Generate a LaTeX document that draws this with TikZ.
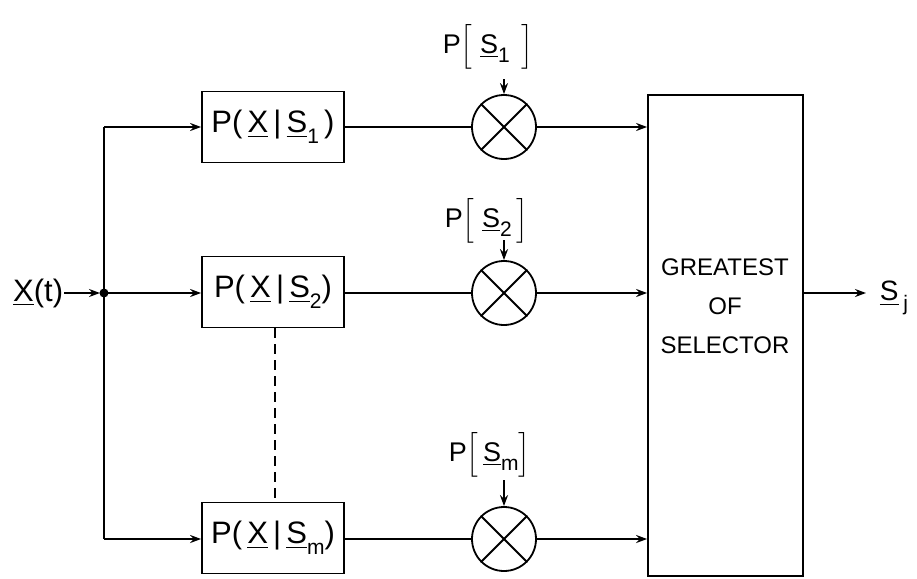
\documentclass[tikz,border=0pt]{standalone}
\usepackage{amsmath}
\usepackage{fontspec}
\setmainfont{Liberation Sans}
\usetikzlibrary{arrows.meta}
\newcommand{\ul}[1]{\underline{#1}}
\newcommand{\subs}[1]{\raisebox{-0.35em}{\fontsize{21}{21}\selectfont #1}}
\newcommand{\brk}[1]{$\Bigl[$#1$\Bigr]$}
\begin{document}
\begin{tikzpicture}[x=1pt,y=-1pt,
  line width=1.8pt,
  tip/.style={-{Stealth[length=11pt,width=8pt]}},
  fbox/.style={draw, minimum width=142pt, minimum height=71pt, inner sep=0pt,
    font=\fontsize{31}{36}\selectfont},
  mult/.style={draw, circle, minimum size=64pt, inner sep=0pt},
  plabel/.style={font=\fontsize{27}{32}\selectfont, inner sep=0pt, anchor=base west},
  big/.style={font=\fontsize{31}{36}\selectfont, inner sep=0pt},
  gtext/.style={font=\fontsize{24}{39}\selectfont, align=center, inner sep=0pt},
]
\useasboundingbox (0,0) rectangle (917,578);

% input
\node[big, anchor=east] (x) at (64,293) {\ul{X}(t)};
\coordinate (j) at (104,293);
\coordinate (jt) at (104,127);
\coordinate (jb) at (104,539);

% filter boxes
\node[fbox] (b1) at (273,127) {P(\,\ul{X}\,|\,\ul{S}\subs{1}\,)};
\node[fbox] (b2) at (273,292) {P(\,\ul{X}\,|\,\ul{S}\subs{2})};
\node[fbox] (bm) at (273,538) {P(\,\ul{X}\,|\,\ul{S}\subs{m})};

% multipliers
\node[mult] (m1) at (504,127) {};
\node[mult] (m2) at (504,293) {};
\node[mult] (mm) at (504,539) {};
\foreach \m in {m1,m2,mm}{
  \draw (\m.45) -- (\m.225);
  \draw (\m.135) -- (\m.-45);
}

% probability labels
\node[plabel] (p1) at (442,53) {P\brk{\;\ul{S}\subs{1}\;\,}};
\node[plabel] (p2) at (444,227) {P\brk{\;\ul{S}\subs{2}\,}};
\node[plabel] (pm) at (448,461) {P\brk{\,\ul{S}\subs{m}}};
\coordinate (a1) at (504,79);
\coordinate (a2) at (504,240);
\coordinate (am) at (504,480);

% selector
\node[draw, minimum width=155pt, minimum height=481pt, inner sep=0pt] (g) at (725.5,335.5) {};
\node[gtext] (gt) at (725,306) {GREATEST\\OF\\SELECTOR};

% output
\node[anchor=west, inner sep=0pt, font=\fontsize{28}{32}\selectfont] (sj) at (879,298) {\ul{S}\,\subs{j}};
\coordinate (oe) at (866,293);

% connectors
\draw[tip] (x.east) -- ([xshift=-4pt]j);
\fill (j) circle (4.5pt);
\draw (jt) -- (jb);
\draw[tip] (jt) -- (b1.west |- jt);
\draw[tip] (j) -- (b2.west |- j);
\draw[tip] (jb) -- (bm.west |- jb);
\draw (b1.east |- m1.west) -- (m1.west);
\draw (b2.east |- m2.west) -- (m2.west);
\draw (bm.east |- mm.west) -- (mm.west);
\draw[tip] (m1.east) -- (g.west |- m1.east);
\draw[tip] (m2.east) -- (g.west |- m2.east);
\draw[tip] (mm.east) -- (g.west |- mm.east);
\draw[tip] (g.east |- j) -- (oe);
\draw[tip] (a1) -- (m1.north);
\draw[tip] (a2) -- (m2.north);
\draw[tip] (am) -- (mm.north);
\draw[dashed, dash pattern=on 10pt off 6pt, line width=1.3pt] (b2.south -| 275,0) -- (bm.north -| 275,0);
\end{tikzpicture}
\end{document}
